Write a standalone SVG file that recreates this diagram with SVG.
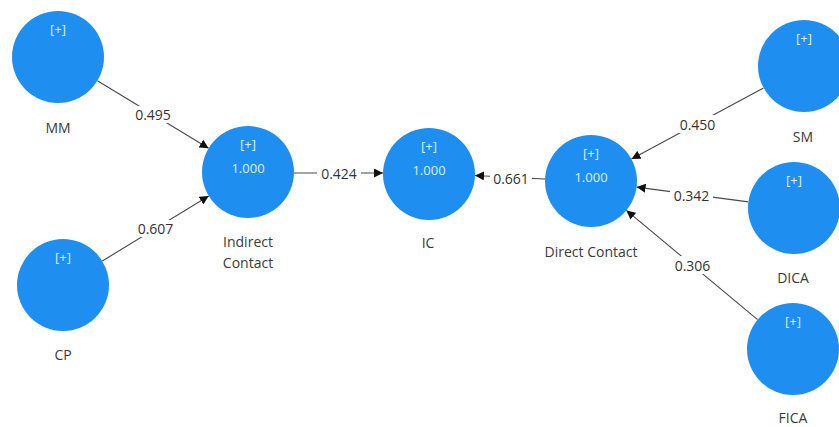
<svg xmlns="http://www.w3.org/2000/svg" width="839" height="427" viewBox="0 0 839 427">
  <style>
    .node { fill: #1e8ff0; }
    .inner { font-family: "Open Sans", "Liberation Sans", sans-serif; font-size: 13px; fill: #dcefff; text-anchor: middle; }
    .name { font-family: "Open Sans", "Liberation Sans", sans-serif; font-size: 14px; fill: #3a3a3a; text-anchor: middle; }
    .edge { stroke: #4a4a4a; stroke-width: 1.1; fill: none; marker-end: url(#arrow); }
    .wlbl { font-family: "Open Sans", "Liberation Sans", sans-serif; font-size: 14px; fill: #333; text-anchor: middle; dominant-baseline: central; }
    .gap { fill: #ffffff; }
  </style>
  <defs>
    <marker id="arrow" viewBox="0 0 10 10" refX="10" refY="5" markerWidth="9" markerHeight="9" markerUnits="userSpaceOnUse" orient="auto">
      <path d="M0,0 L10,5 L0,10 Z" fill="#111"/>
    </marker>
  </defs>
  <rect width="839" height="427" fill="#ffffff"/>

  <!-- path connectors with coefficient labels -->
  <g id="connectors">
    <line class="edge" x1="97.4" y1="80.8" x2="208.6" y2="148.2"/>
    <rect class="gap" x="132" y="106" width="42" height="17"/>
    <text class="wlbl" x="153" y="114.5">0.495</text>

    <line class="edge" x1="102.3" y1="261" x2="208.7" y2="196"/>
    <rect class="gap" x="134" y="220" width="42" height="17"/>
    <text class="wlbl" x="155.5" y="228.5">0.607</text>

    <line class="edge" x1="294" y1="173" x2="383" y2="173"/>
    <rect class="gap" x="317" y="165" width="44" height="16"/>
    <text class="wlbl" x="339" y="173">0.424</text>

    <line class="edge" x1="545" y1="179" x2="475" y2="175.5"/>
    <rect class="gap" x="490" y="169" width="42" height="17"/>
    <text class="wlbl" x="511" y="178">0.661</text>

    <line class="edge" x1="763.5" y1="87.9" x2="631.5" y2="159.1"/>
    <rect class="gap" x="676" y="115" width="43" height="18"/>
    <text class="wlbl" x="697.5" y="124.5">0.450</text>

    <line class="edge" x1="748.4" y1="201.9" x2="636.6" y2="187.1"/>
    <rect class="gap" x="670" y="187" width="43" height="16"/>
    <text class="wlbl" x="691.5" y="195">0.342</text>

    <line class="edge" x1="757.6" y1="319.6" x2="626.4" y2="210.4"/>
    <rect class="gap" x="671" y="256" width="43" height="18"/>
    <text class="wlbl" x="692.5" y="265">0.306</text>
  </g>

  <!-- constructs -->
  <g id="MM">
    <circle class="node" cx="58" cy="57" r="46"/>
    <text class="inner" x="58" y="34">[+]</text>
    <text class="name" x="58" y="133">MM</text>
  </g>
  <g id="CP">
    <circle class="node" cx="63" cy="285" r="46"/>
    <text class="inner" x="63" y="262">[+]</text>
    <text class="name" x="63" y="360">CP</text>
  </g>
  <g id="IndirectContact">
    <circle class="node" cx="248" cy="172" r="46"/>
    <text class="inner" x="248" y="149">[+]</text>
    <text class="inner" x="248" y="173">1.000</text>
    <text class="name" x="248" y="247">Indirect</text>
    <text class="name" x="248" y="268">Contact</text>
  </g>
  <g id="IC">
    <circle class="node" cx="429" cy="174" r="46"/>
    <text class="inner" x="429" y="151">[+]</text>
    <text class="inner" x="429" y="175">1.000</text>
    <text class="name" x="428" y="248">IC</text>
  </g>
  <g id="DirectContact">
    <circle class="node" cx="591" cy="181" r="46"/>
    <text class="inner" x="591" y="158">[+]</text>
    <text class="inner" x="591" y="182">1.000</text>
    <text class="name" x="591" y="257">Direct Contact</text>
  </g>
  <g id="SM">
    <circle class="node" cx="804" cy="66" r="46"/>
    <text class="inner" x="804" y="43">[+]</text>
    <text class="name" x="803" y="142">SM</text>
  </g>
  <g id="DICA">
    <circle class="node" cx="794" cy="208" r="46"/>
    <text class="inner" x="794" y="185">[+]</text>
    <text class="name" x="793" y="283">DICA</text>
  </g>
  <g id="FICA">
    <circle class="node" cx="793" cy="349" r="46"/>
    <text class="inner" x="793" y="326">[+]</text>
    <text class="name" x="793" y="423">FICA</text>
  </g>
</svg>
